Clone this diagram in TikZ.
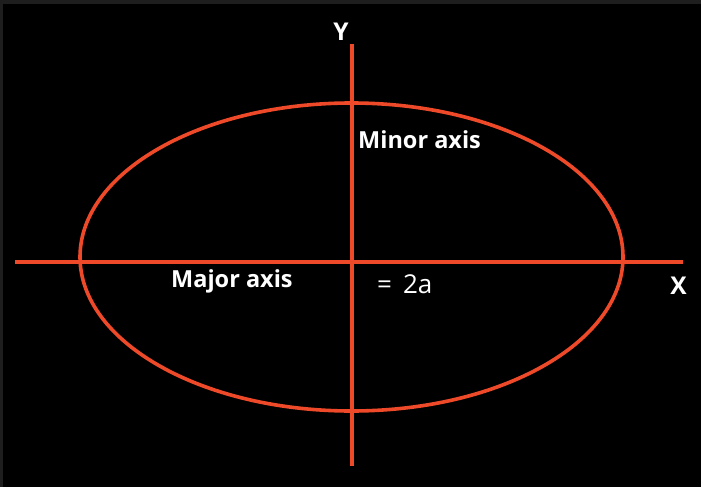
\documentclass[tikz,border=0pt]{standalone}
\usepackage{fontspec}
\setmainfont{Open Sans}
\definecolor{axred}{RGB}{238,74,42}
\definecolor{frame}{RGB}{30,30,30}
\tikzset{
  axis/.style={draw=axred, line width=3.6pt},
  lbl/.style={text=white, font=\bfseries\fontsize{23.5}{28}\selectfont, inner sep=0pt},
  lblbig/.style={text=white, font=\bfseries\fontsize{24.5}{28}\selectfont, inner sep=0pt},
  lblr/.style={text=white, font=\fontsize{26}{30}\selectfont, inner sep=0pt}
}
\begin{document}
\begin{tikzpicture}[x=1pt,y=-1pt]
\fill[black] (0,0) rectangle (701,487);
\fill[frame] (0,0) rectangle (701,4);
\fill[frame] (0,0) rectangle (3,487);
\useasboundingbox (0,0) rectangle (701,487);
\coordinate (xl) at (15,262);
\coordinate (xr) at (683,262);
\coordinate (yt) at (352,44);
\coordinate (yb) at (352,466);
\coordinate (c) at (351.5,257);
\draw[axis] (c) ellipse [x radius=271.5, y radius=154];
\draw[axis] (xl) -- (xr);
\draw[axis] (yt) -- (yb);
\node[lblbig, anchor=base] (Y) at (341,41) {Y};
\node[lbl, anchor=base west] (minor) at (358,148) {Minor axis};
\node[lbl, anchor=base west] (major) at (171,287) {Major axis};
\node[lblr, anchor=base west] (eq) at (377,293) {=\hspace{11pt}2a};
\node[lblbig, anchor=base] (X) at (678.5,294) {X};
\end{tikzpicture}
\end{document}
